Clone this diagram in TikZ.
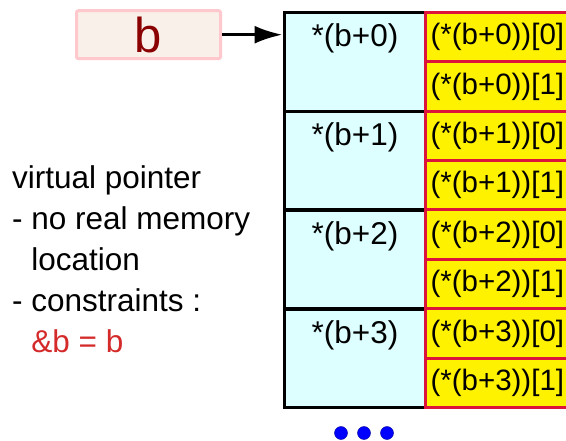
\documentclass[tikz,border=0pt]{standalone}
\usepackage{fontspec}
\setmainfont{Liberation Sans}
\usetikzlibrary{arrows.meta,positioning}

\definecolor{cellcyan}{HTML}{DDFFFF}
\definecolor{cellred}{HTML}{DC143C}
\definecolor{ptrpink}{HTML}{FFC8CC}
\definecolor{ptrfill}{HTML}{FAF0EA}
\definecolor{ptrtext}{HTML}{8B0000}
\definecolor{noteRed}{HTML}{D42A2A}

\newcommand{\cellfont}{\fontsize{31.5pt}{36pt}\selectfont}
\newcommand{\elemfont}{\fontsize{29.5pt}{36pt}\selectfont}
\newcommand{\notefont}{\fontsize{31.5pt}{41pt}\selectfont}
\newcommand{\varfont}{\fontsize{49pt}{49pt}\selectfont}

\begin{document}
\begin{tikzpicture}[x=1pt, y=-1pt,
  var/.style={draw=ptrpink, fill=ptrfill, line width=3pt, rounded corners=2pt,
              minimum width=144pt, minimum height=48pt, inner sep=0pt,
              text=ptrtext, font=\varfont},
  ptr/.style={draw=black, fill=cellcyan, line width=3.5pt, minimum width=141.5pt,
              minimum height=98.75pt, inner sep=0pt, anchor=north west},
  elem/.style={draw=cellred, fill=yellow, line width=3pt, minimum width=152pt,
               minimum height=49.375pt, text width=142pt, align=left,
               inner xsep=5pt, inner ysep=0pt, anchor=north west, font=\elemfont},
  ptrlabel/.style={anchor=base, yshift=-36pt, font=\cellfont},
  link/.style={-{Latex[length=28pt, width=18pt]}, line width=3pt},
  dot/.style={circle, fill=blue, draw=blue!60!black, line width=0.4pt,
              minimum size=13pt, inner sep=0pt},
]
\useasboundingbox (0,0) rectangle (566,441);

% Pointer variable
\node[var] (b) at (148.5, 34.7) {b};

% Rows pointed to: *(b+i)
\node[ptr, label={[ptrlabel]north:*(b+0)}] (c0) at (282.5, 11) {};
\node[ptr, label={[ptrlabel]north:*(b+1)}] (c1) at (282.5, 109.75) {};
\node[ptr, label={[ptrlabel]north:*(b+2)}] (c2) at (282.5, 208.5) {};
\node[ptr, label={[ptrlabel]north:*(b+3)}] (c3) at (282.5, 307.25) {};

% Elements of each row
\node[elem] (e00) at (424, 11) {(*(b+0))[0]};
\node[elem] (e01) at (424, 60.375) {(*(b+0))[1]};
\node[elem] (e10) at (424, 109.75) {(*(b+1))[0]};
\node[elem] (e11) at (424, 159.125) {(*(b+1))[1]};
\node[elem] (e20) at (424, 208.5) {(*(b+2))[0]};
\node[elem] (e21) at (424, 257.875) {(*(b+2))[1]};
\node[elem] (e30) at (424, 307.25) {(*(b+3))[0]};
\node[elem] (e31) at (424, 356.625) {(*(b+3))[1]};

% Pointer arrow
\draw[link] (b.east) -- (b.east -| c0.west);

% Note on the left
\node[anchor=north west, inner sep=0pt, align=left, font=\notefont] (note) at (12, 165) {%
virtual pointer\\
- no real memory\\
\phantom{- }location\\
- constraints :\\
\phantom{- }\textcolor{noteRed}{\&b = b}};

% More rows
\node[dot] (d1) at (341, 433) {};
\node[dot] (d2) at (364, 433) {};
\node[dot] (d3) at (387, 433) {};

\end{tikzpicture}
\end{document}
